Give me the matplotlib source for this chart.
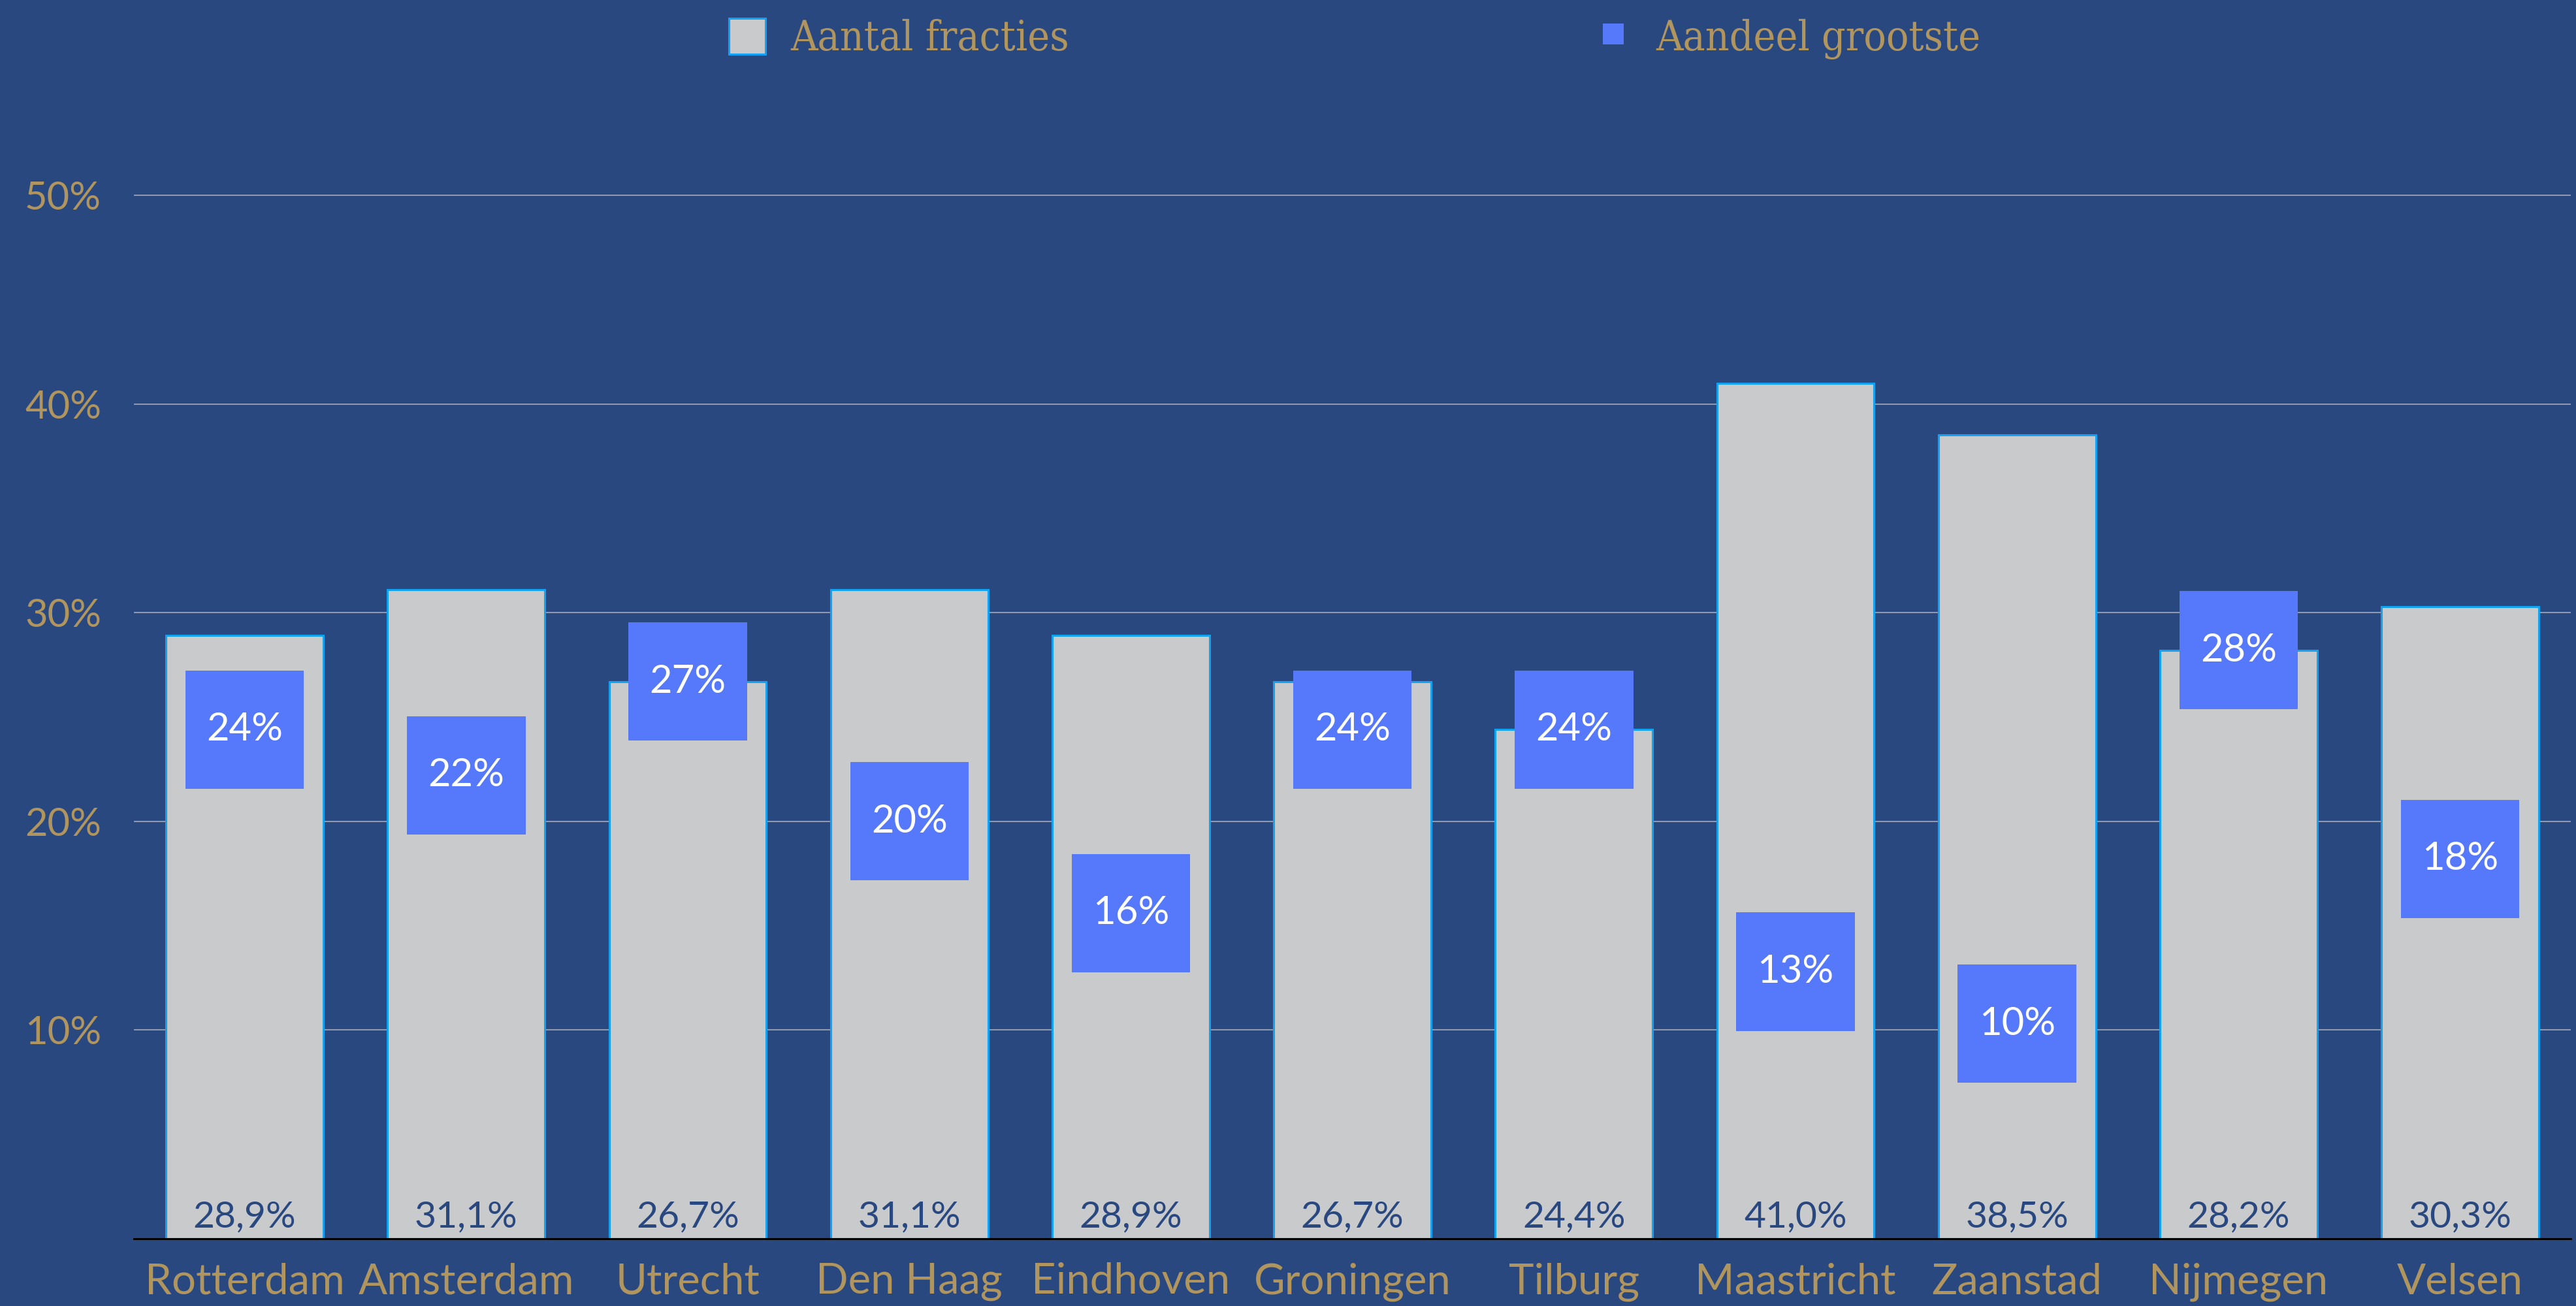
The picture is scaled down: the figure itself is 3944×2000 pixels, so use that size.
import matplotlib
matplotlib.use("Agg")
import matplotlib.pyplot as plt
from matplotlib.lines import Line2D

# ==============================
# Data
# ==============================
cities = ["Rotterdam", "Amsterdam", "Utrecht", "Den Haag", "Eindhoven", "Groningen",
          "Tilburg", "Maastricht", "Zaanstad", "Nijmegen", "Velsen"]
aantal_fracties = [28.9, 31.1, 26.7, 31.1, 28.9, 26.7, 24.4, 41.0, 38.5, 28.2, 30.3]
aandeel_grootste = [24.4, 22.2, 26.7, 20.0, 15.6, 24.4, 24.4, 12.8, 10.3, 28.2, 18.2]
y_ticks = [10, 20, 30, 40, 50]

# ==============================
# Style
# ==============================
BG = "#2a4880"
GOLD = "#b0955e"
GREY = "#c9cacc"
EDGE = "#12a2f2"
BLUE = "#5679fc"
GRID = "#8e98ae"
SANS = ["Lato", "DejaVu Sans"]

fig = plt.figure(figsize=(39.44, 20), dpi=100, facecolor=BG)
ax = fig.add_axes([0.052, 0.0515, 0.946, 0.831])
ax.set_facecolor(BG)

x = list(range(len(cities)))

bars = ax.bar(x, aantal_fracties, width=0.71, color=GREY, edgecolor=EDGE,
              linewidth=2.2, zorder=2)

# blue squares centred on the value
sq_h = 5.67
sq_bottom = [v - sq_h / 2 for v in aandeel_grootste]
ax.bar(x, [sq_h] * len(x), bottom=sq_bottom, width=0.535, color=BLUE,
       linewidth=0, zorder=3)

for xi, v in zip(x, aantal_fracties):
    ax.annotate(f"{v:.1f}%".replace(".", ","), (xi, 0), xytext=(0, 13),
                textcoords="offset points", ha="center", va="baseline",
                fontsize=41, color=BG, family=SANS, zorder=4)

for xi, v in zip(x, aandeel_grootste):
    ax.text(xi, v, f"{round(v)}%", ha="center", va="center",
            fontsize=43, color="white", family=SANS, zorder=4)

ax.set_xlim(-0.5, len(cities) - 0.5)
ax.set_ylim(0, 52)
ax.set_yticks(y_ticks)
ax.set_yticklabels([f"{t}%" for t in y_ticks])
ax.set_xticks(x)
ax.set_xticklabels(cities)

ax.tick_params(axis="y", length=0, pad=36, labelsize=43, labelcolor=GOLD)
ax.tick_params(axis="x", length=0, pad=26, labelsize=47, labelcolor=GOLD)
for lab in ax.get_xticklabels() + ax.get_yticklabels():
    lab.set_family(SANS)

ax.grid(axis="y", color=GRID, linewidth=1.5)
ax.set_axisbelow(True)
for side in ["top", "right", "left"]:
    ax.spines[side].set_visible(False)
ax.spines["bottom"].set_color("black")
ax.spines["bottom"].set_linewidth(2.2)
ax.spines["bottom"].set_zorder(5)

# ==============================
# Legend
# ==============================
blue_handle = Line2D([], [], linestyle="none", marker="s", markersize=23,
                     markerfacecolor=BLUE, markeredgewidth=0)
leg = fig.legend([bars, blue_handle], ["Aantal fracties", "Aandeel grootste"],
                 loc="upper center", bbox_to_anchor=(0.526, 1.015), ncol=2,
                 frameon=False, handlelength=0.87, handleheight=0.97,
                 handletextpad=0.6, columnspacing=12.6,
                 prop={"family": "DejaVu Serif", "stretch": "condensed", "size": 46})
for t in leg.get_texts():
    t.set_color(GOLD)

fig.savefig("out.png", dpi=100, facecolor=BG)
